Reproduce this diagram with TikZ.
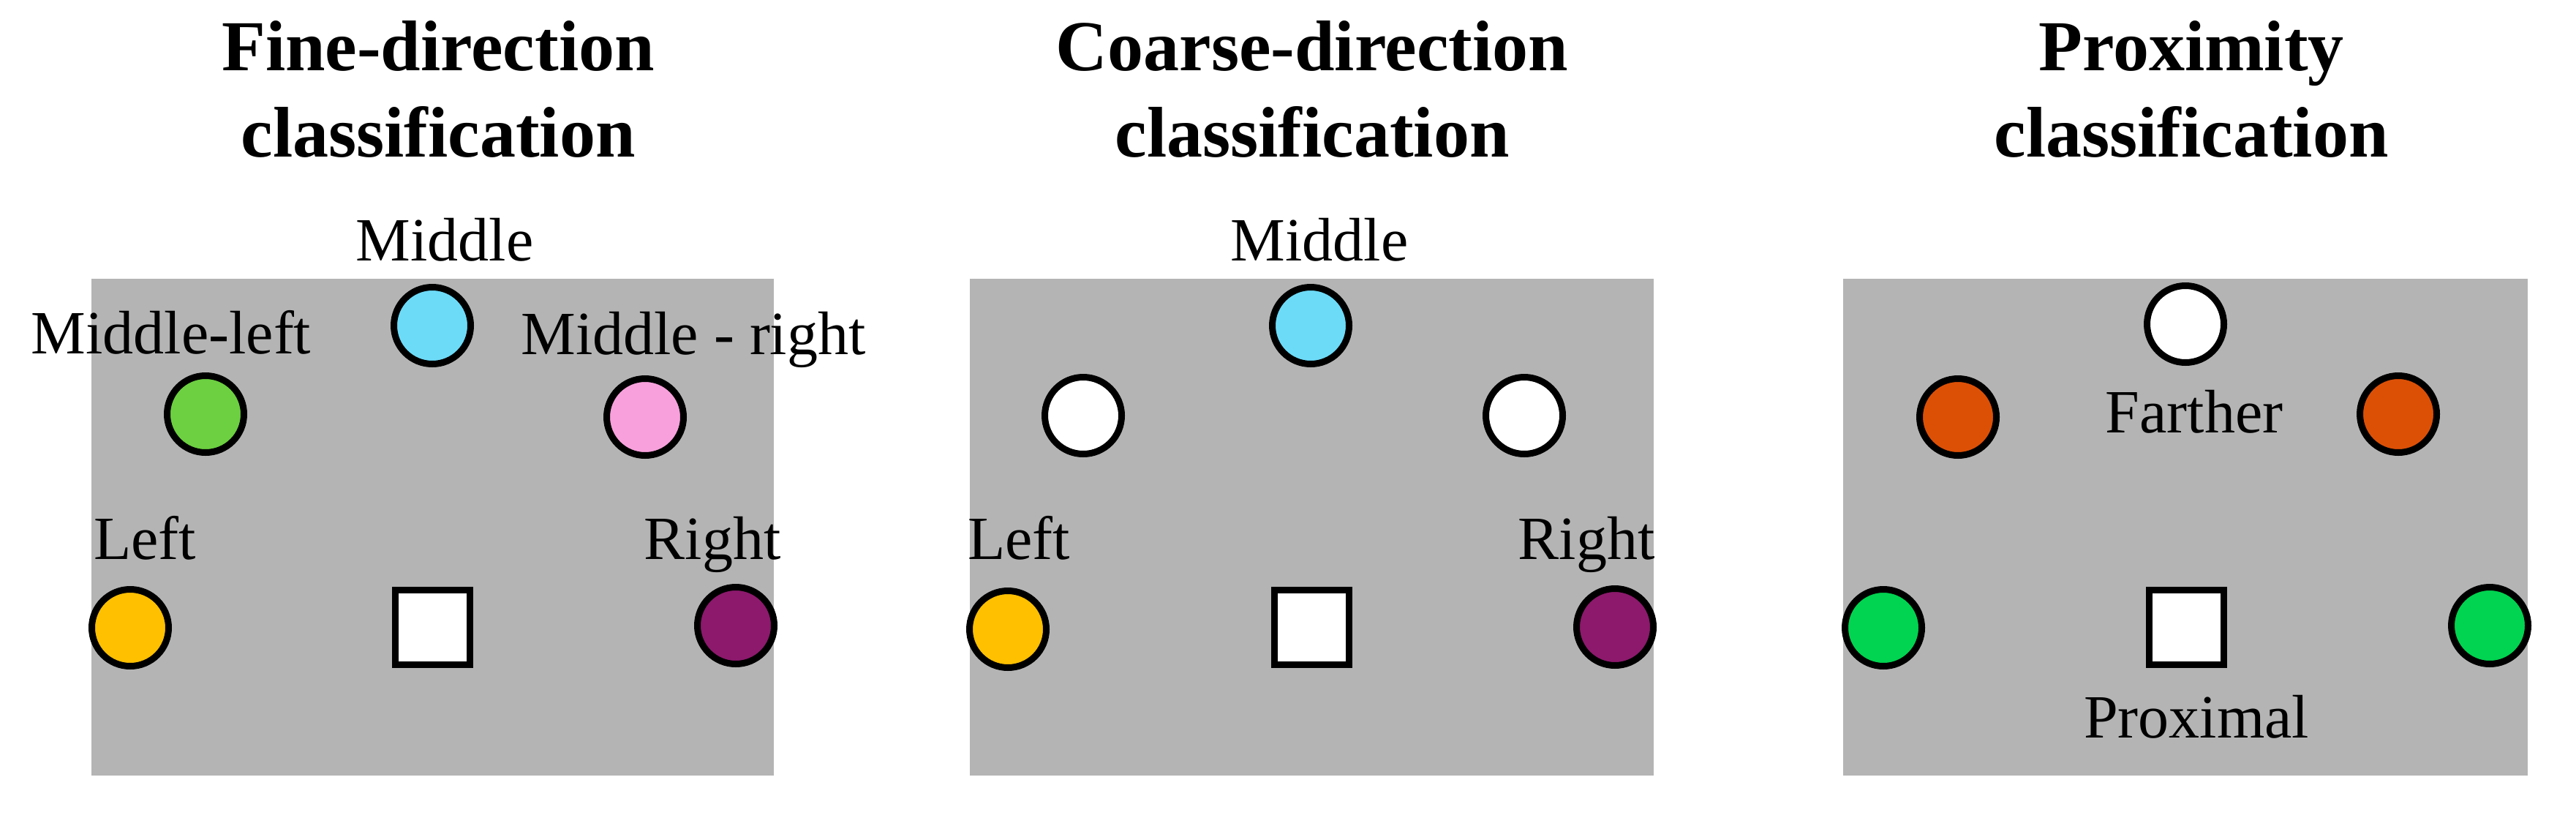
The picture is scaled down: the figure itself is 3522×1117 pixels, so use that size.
\documentclass[tikz,border=0pt]{standalone}
\usepackage{fontspec}
\setmainfont{Liberation Serif}
\definecolor{fieldgray}{RGB}{180,180,180}
\definecolor{cmiddle}{RGB}{108,219,248}
\definecolor{cmleft}{RGB}{108,208,64}
\definecolor{cmright}{RGB}{248,160,220}
\definecolor{cleft}{RGB}{255,192,0}
\definecolor{cright}{RGB}{140,25,108}
\definecolor{cfar}{RGB}{220,80,6}
\definecolor{cnear}{RGB}{0,212,80}
\begin{document}
\begin{tikzpicture}[x=1pt,y=-1pt,
  dot/.style={circle,draw=black,line width=9pt,minimum size=105pt,inner sep=0pt},
  sq/.style={rectangle,draw=black,fill=white,line width=9pt,minimum size=102pt,inner sep=0pt},
  ttl/.style={anchor=base,inner sep=0pt,font=\fontsize{98}{118}\selectfont\bfseries},
  lbl/.style={anchor=base,inner sep=0pt,font=\fontsize{84}{100}\selectfont},
  field/.style={fill=fieldgray,draw=none}]
\useasboundingbox (0,0) rectangle (3522,1117);
\fill[white] (0,0) rectangle (3522,1117);
% ---------- panel 1: fine direction ----------
\fill[field] (125,381) rectangle (1058,1060);
\node[ttl] (t1a) at (599,96) {Fine-direction};
\node[ttl] (t1b) at (599,214) {classification};
\node[dot,fill=cmiddle] (f1m) at (591,445) {};
\node[dot,fill=cmleft] (f1ml) at (281,566) {};
\node[dot,fill=cmright] (f1mr) at (882,570) {};
\node[dot,fill=cleft] (f1l) at (178,858) {};
\node[dot,fill=cright] (f1r) at (1006,855) {};
\node[sq] (f1s) at (591,857) {};
\node[lbl] (l1m) at (608,356) {Middle};
\node[lbl] (l1ml) at (234,483) {Middle-left};
\node[lbl] (l1mr) at (948,484) {Middle - right};
\node[lbl] (l1l) at (198,764) {Left};
\node[lbl] (l1r) at (974,764) {Right};
% ---------- panel 2: coarse direction ----------
\fill[field] (1326,381) rectangle (2261,1060);
\node[ttl] (t2a) at (1794,96) {Coarse-direction};
\node[ttl] (t2b) at (1794,214) {classification};
\node[dot,fill=cmiddle] (f2m) at (1792,445) {};
\node[dot,fill=white] (f2ml) at (1481,568) {};
\node[dot,fill=white] (f2mr) at (2084,568) {};
\node[dot,fill=cleft] (f2l) at (1378,860) {};
\node[dot,fill=cright] (f2r) at (2208,857) {};
\node[sq] (f2s) at (1793,857) {};
\node[lbl] (l2m) at (1804,356) {Middle};
\node[lbl] (l2l) at (1393,764) {Left};
\node[lbl] (l2r) at (2169,764) {Right};
% ---------- panel 3: proximity ----------
\fill[field] (2520,381) rectangle (3456,1060);
\node[ttl] (t3a) at (2996,96) {Proximity};
\node[ttl] (t3b) at (2996,214) {classification};
\node[dot,fill=white] (f3m) at (2988,443) {};
\node[dot,fill=cfar] (f3ml) at (2677,570) {};
\node[dot,fill=cfar] (f3mr) at (3279,566) {};
\node[dot,fill=cnear] (f3l) at (2575,858) {};
\node[dot,fill=cnear] (f3r) at (3404,855) {};
\node[sq] (f3s) at (2989,857) {};
\node[lbl] (l3f) at (3000,591) {Farther};
\node[lbl] (l3p) at (3003,1008) {Proximal};
\end{tikzpicture}
\end{document}
